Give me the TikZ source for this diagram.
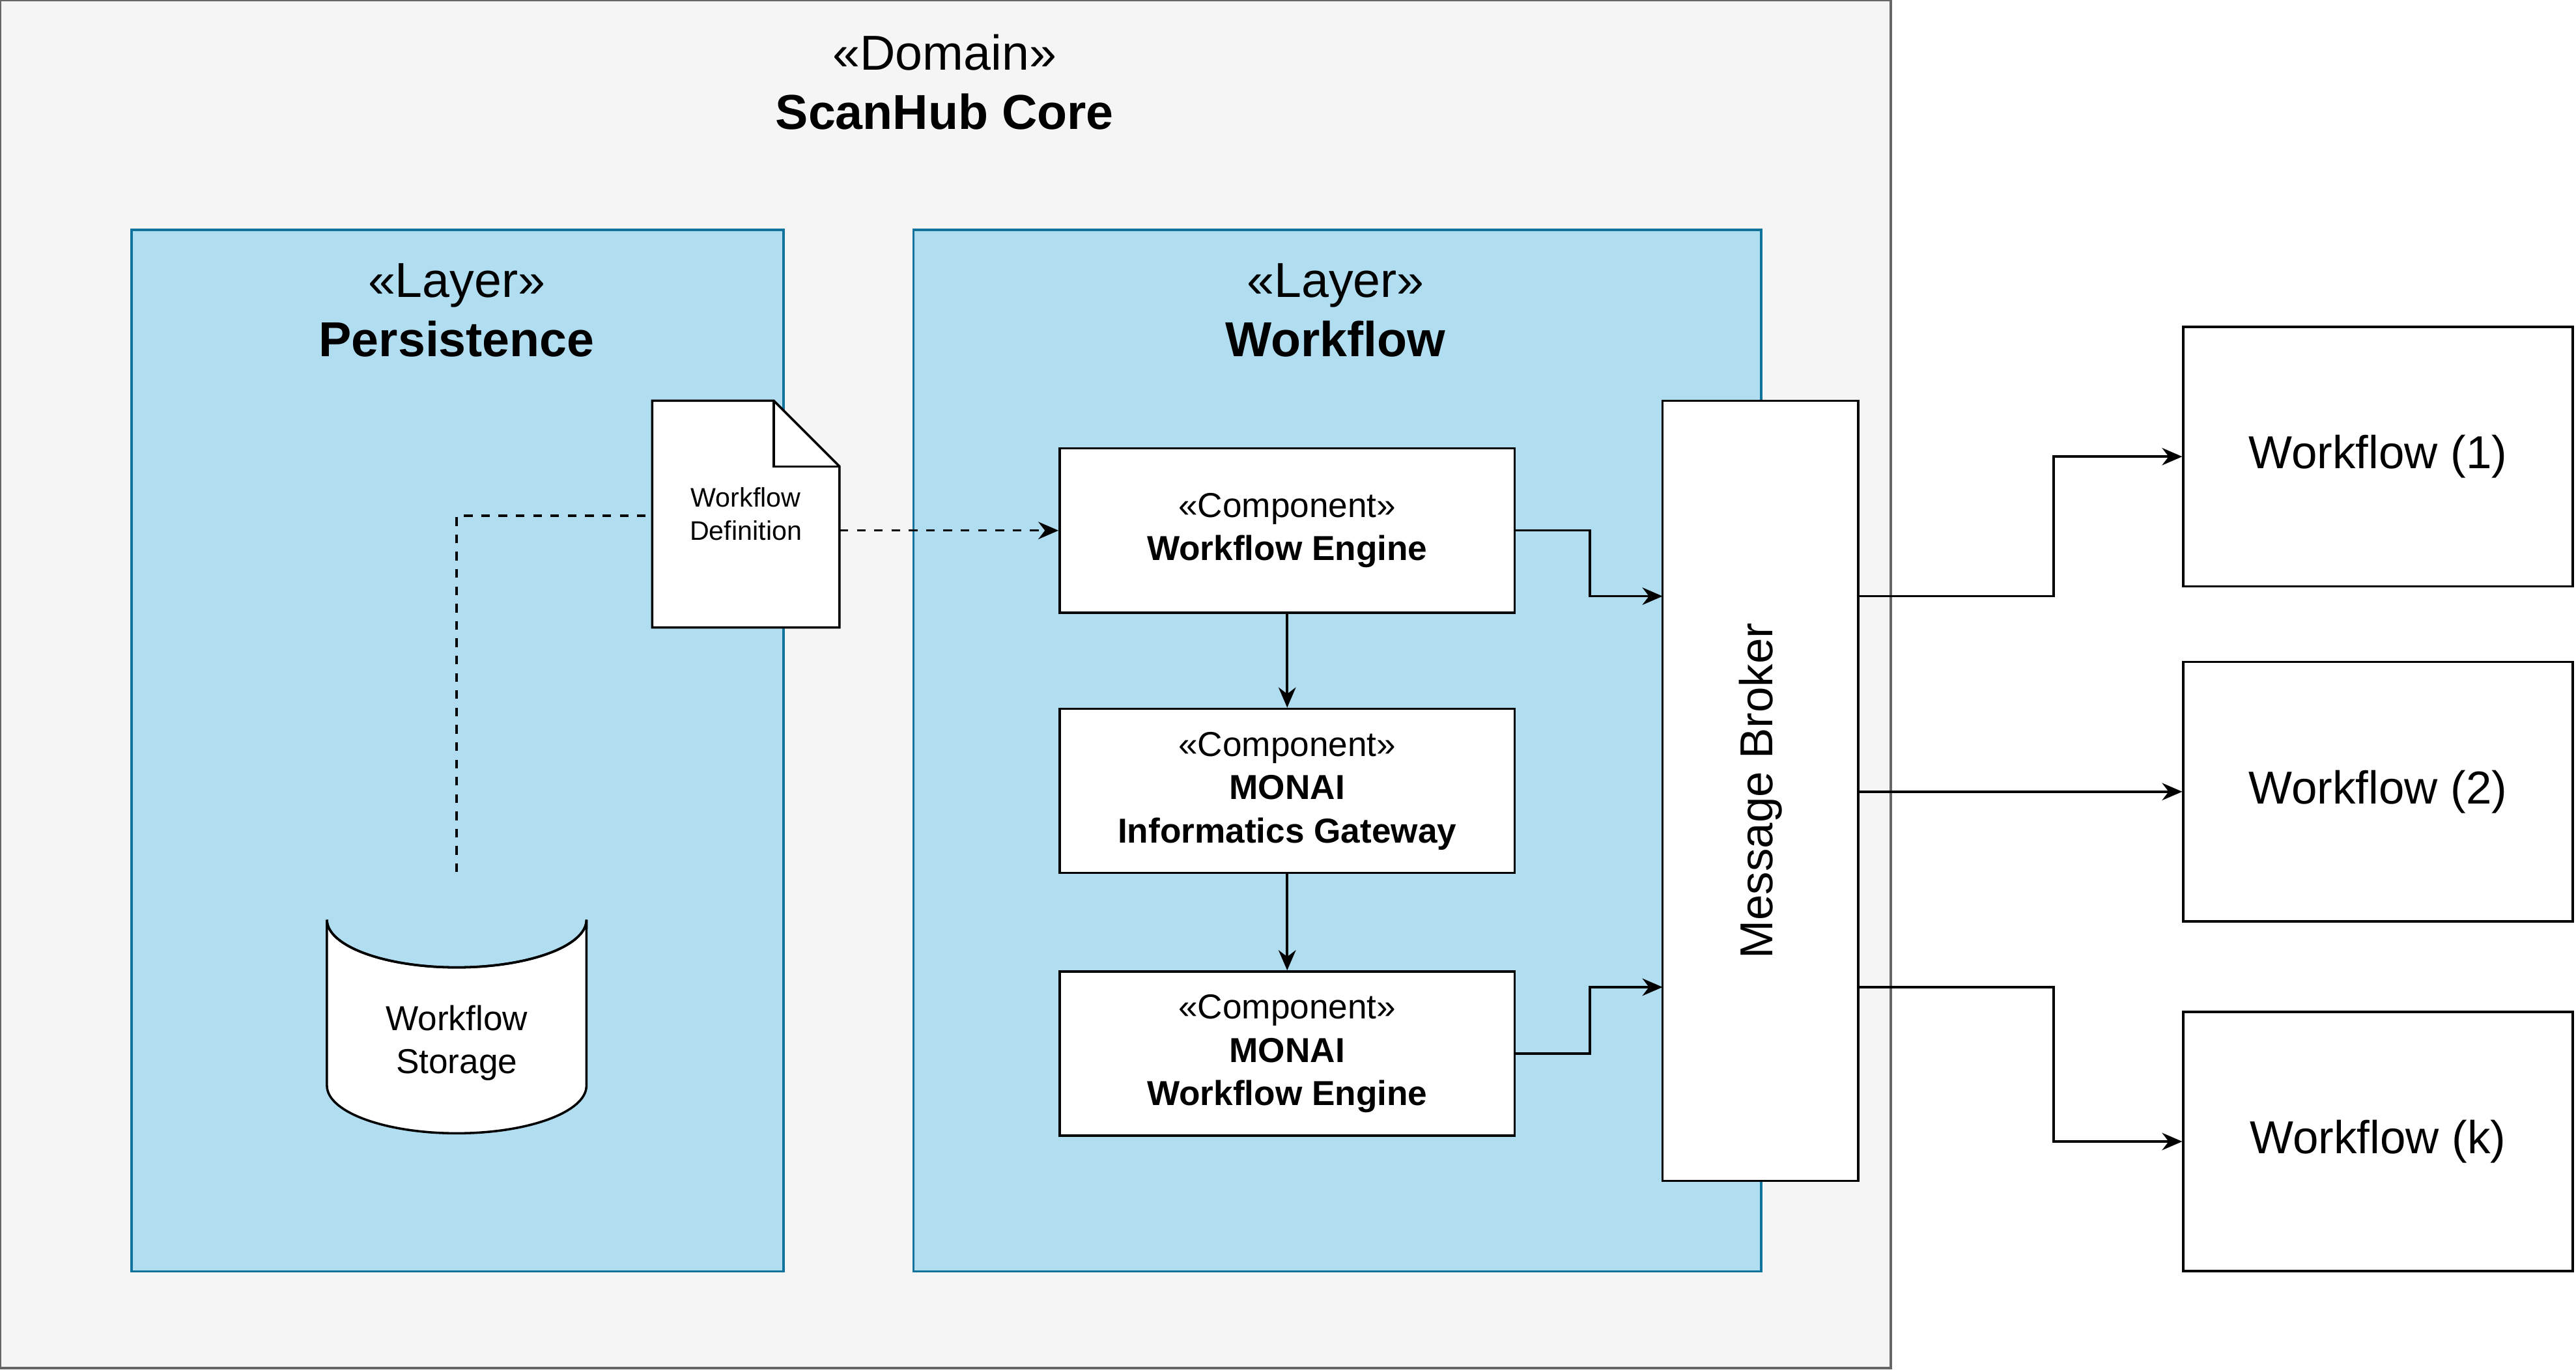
\documentclass[tikz,border=0pt]{standalone}
\usepackage{fontspec}
\setmainfont{Liberation Sans}
\usetikzlibrary{arrows.meta,positioning,calc}

\definecolor{domfill}{HTML}{F5F5F5}
\definecolor{domline}{HTML}{666666}
\definecolor{layfill}{HTML}{B1DDF0}
\definecolor{layline}{HTML}{10739E}

\tikzset{
  layer/.style={draw=layline, fill=layfill, line width=0.8pt},
  comp/.style={draw, fill=white, line width=0.8pt, minimum width=5.54cm, minimum height=2cm,
    inner sep=0pt, align=center, font=\fontsize{12}{15}\selectfont},
  wfbox/.style={draw, fill=white, line width=0.8pt, minimum width=4.74cm, minimum height=3.16cm,
    inner sep=0pt, font=\fontsize{16}{19}\selectfont},
  conn/.style={line width=0.8pt, -{Stealth[length=7pt,width=6pt]}},
}

\begin{document}
\begin{tikzpicture}[x=0.02cm, y=-0.02cm]
\useasboundingbox (0,0) rectangle (1568,835);

% Domain and layers
\draw[draw=domline, fill=domfill, line width=0.8pt] (0,0) rectangle (1151,833);
\node[align=center, font=\fontsize{17}{20.5}\selectfont] (dom) at (575,50) {«Domain»\\\textbf{ScanHub Core}};
\draw[layer] (80,140) rectangle (477,774);
\draw[layer] (556,140) rectangle (1072,774);
\node[align=center, font=\fontsize{17}{20.5}\selectfont] (lpers) at (278,189) {«Layer»\\\textbf{Persistence}};
\node[align=center, font=\fontsize{17}{20.5}\selectfont] (lwf) at (813,189) {«Layer»\\\textbf{Workflow}};

% Storage cylinder
\draw[fill=white, line width=0.8pt] (199,560) -- (199,661) arc[start angle=180, end angle=360, x radius=1.58cm, y radius=0.58cm]
  -- (357,560) arc[start angle=0, end angle=-180, x radius=1.58cm, y radius=0.58cm];
\draw[line width=0.8pt] (199,560) arc[start angle=180, end angle=360, x radius=1.58cm, y radius=0.58cm];
\node[align=center, font=\fontsize{12}{15}\selectfont] (stor) at (278,635) {Workflow\\Storage};
\coordinate (stortop) at (278,531);

% Definition document
\draw[fill=white, line width=0.8pt] (397,244) -- (471,244) -- (511,284) -- (511,382) -- (397,382) -- cycle;
\draw[line width=0.8pt] (471,244) -- (471,284) -- (511,284);
\node[align=center, font=\fontsize{9.3}{11.5}\selectfont] (def) at (454,313) {Workflow\\Definition};
\coordinate (defw) at (397,314);
\coordinate (defe) at (511,323);

% Components
\node[comp] (we) at (783.5,323) {«Component»\\\textbf{Workflow Engine}};
\node[comp] (mig) at (783.5,481.5) {«Component»\\\textbf{MONAI}\\\textbf{Informatics Gateway}};
\node[comp] (mwe) at (783.5,641.5) {«Component»\\\textbf{MONAI}\\\textbf{Workflow Engine}};
\node[draw, fill=white, line width=0.8pt, minimum width=2.38cm, minimum height=9.5cm, inner sep=0pt] (mb) at (1071.5,481.5) {};
\node[rotate=90, font=\fontsize{16}{19}\selectfont] (mblabel) at (mb.center) {Message Broker};

% Workflows
\node[wfbox] (w1) at (1447.5,278) {Workflow (1)};
\node[wfbox] (w2) at (1447.5,482) {Workflow (2)};
\node[wfbox] (wk) at (1447.5,695) {Workflow (k)};

% Connectors
\draw[line width=0.8pt, dashed] (stortop) |- (defw);
\draw[conn, dashed] (defe) -- (we.west |- defe);
\draw[conn] (we) -- (mig);
\draw[conn] (mig) -- (mwe);
\coordinate (mbin1) at (1012,363);
\coordinate (mbin2) at (1012,601);
\coordinate (mbout1) at (1131,363);
\coordinate (mbout3) at (1131,601);
\draw[conn] (we.east) -- ++(45,0) |- (mbin1);
\draw[conn] (mwe.east) -- ++(45,0) |- (mbin2);
\draw[conn] (mbout1) -- ++(119,0) |- (w1.west);
\draw[conn] (mb.east |- w2.west) -- (w2.west);
\draw[conn] (mbout3) -- ++(119,0) |- (wk.west);
\end{tikzpicture}
\end{document}
